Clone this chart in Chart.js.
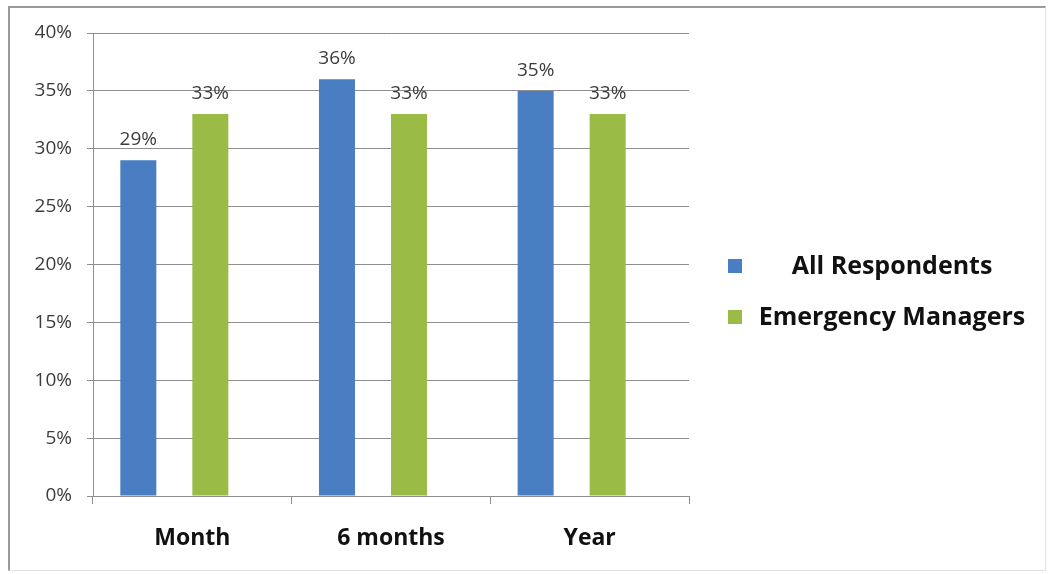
<!DOCTYPE html>
<html>
<head>
<meta charset="utf-8">
<script src="https://cdn.jsdelivr.net/npm/chart.js@4.4.1/dist/chart.umd.min.js"></script>
<style>
  html, body { margin: 0; padding: 0; background: #ffffff; }
  #wrap { position: relative; width: 1050px; height: 574px; }
  #frame {
    position: absolute; left: 8px; top: 6px; width: 1035px; height: 562px;
    border-top: 2px solid #9a9a9a; border-left: 2px solid #9a9a9a;
    border-right: 1px solid #e2e2e2; border-bottom: 1px solid #e2e2e2;
    pointer-events: none;
  }
  canvas { position: absolute; left: 0; top: 0; }
</style>
</head>
<body>
<div id="wrap">
  <canvas id="chart" width="1050" height="574"></canvas>
  <div id="frame"></div>
</div>
<script>
// Share of respondents by time frame
const categories = ['Month', '6 months', 'Year'];
const allRespondents = [29, 36, 35];
const emergencyManagers = [33, 33, 33];
const seriesNames = ['All Respondents', 'Emergency Managers'];
const yTicks = [0, 5, 10, 15, 20, 25, 30, 35, 40];

const BLUE = '#4a7ec3';
const GREEN = '#9abb46';
const TEXT = '#3c3c3c';
const GRID = '#8e8e8e';

// Empty slots keep each pair of columns in its Excel-style position
const gap = categories.map(() => null);

// Value labels above each column
const valueLabels = {
  id: 'valueLabels',
  afterDatasetsDraw(chart) {
    const ctx = chart.ctx;
    ctx.save();
    ctx.font = '19px "Open Sans"';
    ctx.fillStyle = TEXT;
    ctx.textAlign = 'center';
    ctx.textBaseline = 'alphabetic';
    chart.data.datasets.forEach((ds, i) => {
      if (!ds.showInLegend) return;
      chart.getDatasetMeta(i).data.forEach((bar, j) => {
        const v = ds.data[j];
        if (v == null) return;
        ctx.fillText(v + '%', bar.x, bar.y - 15);
      });
    });
    ctx.restore();
  }
};

// Legend on the right: square marker, name centred in its column
const sideLegend = {
  id: 'sideLegend',
  afterDraw(chart) {
    const ctx = chart.ctx;
    const area = chart.chartArea;
    const items = chart.data.datasets.filter(d => d.showInLegend);
    const boxX = area.right + 39;
    const textCenter = area.right + 203;
    const firstY = area.top + 233;
    const step = 51;
    ctx.save();
    ctx.font = 'bold 25px "Open Sans"';
    ctx.textAlign = 'center';
    ctx.textBaseline = 'middle';
    items.forEach((d, k) => {
      const cy = firstY + k * step;
      ctx.fillStyle = d.backgroundColor;
      ctx.fillRect(boxX, cy - 7, 14, 14);
      ctx.fillStyle = '#111111';
      ctx.fillText(d.label, textCenter, cy + 1);
    });
    ctx.restore();
  }
};

new Chart(document.getElementById('chart'), {
  type: 'bar',
  data: {
    labels: categories,
    datasets: [
      { label: seriesNames[0], data: allRespondents, backgroundColor: BLUE, showInLegend: true },
      { label: '', data: gap, backgroundColor: 'rgba(0,0,0,0)' },
      { label: seriesNames[1], data: emergencyManagers, backgroundColor: GREEN, showInLegend: true },
      { label: '', data: gap, backgroundColor: 'rgba(0,0,0,0)' }
    ]
  },
  options: {
    responsive: false,
    devicePixelRatio: 1,
    animation: false,
    categoryPercentage: 0.725,
    barPercentage: 1.0,
    layout: { padding: { left: 0, top: 33, right: 361, bottom: 0 } },
    plugins: {
      legend: { display: false },
      tooltip: { enabled: false }
    },
    scales: {
      x: {
        grid: { display: true, drawOnChartArea: false, drawTicks: true, tickLength: 8, color: GRID, offset: true },
        border: { display: true, color: GRID, width: 1 },
        ticks: { color: '#111111', font: { family: 'Open Sans', size: 23, weight: 'bold' }, padding: 21 },
        afterFit(scale) { scale.height = 78; }
      },
      y: {
        min: 0,
        max: 40,
        afterBuildTicks(scale) { scale.ticks = yTicks.map(v => ({ value: v })); },
        grid: { color: GRID, tickLength: 6, drawTicks: true },
        border: { display: true, color: GRID, width: 1 },
        ticks: {
          color: TEXT,
          font: { family: 'Open Sans', size: 19 },
          padding: 15,
          callback: v => v + '%'
        },
        afterFit(scale) { scale.width = 93; }
      }
    }
  },
  plugins: [valueLabels, sideLegend]
});
</script>
</body>
</html>
